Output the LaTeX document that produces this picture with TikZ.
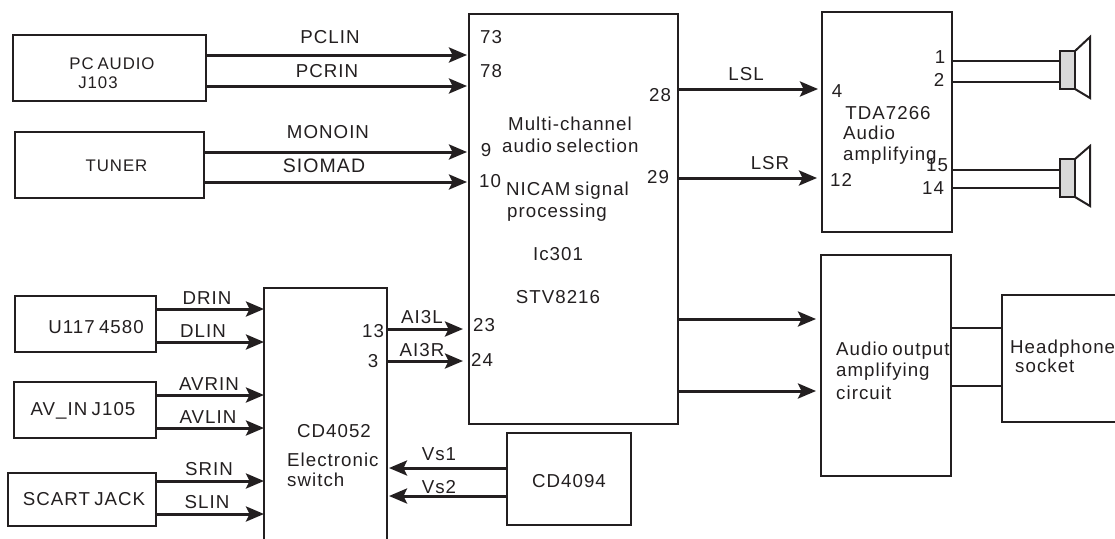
\documentclass[tikz,border=0pt]{standalone}
\usepackage{fontspec}
\setmainfont{Liberation Sans}[LetterSpace=5.5,WordSpace=0.7]
\usetikzlibrary{arrows.meta}
\definecolor{ink}{HTML}{231F20}
\tikzset{
  x=1pt,y=-1pt,
  box/.style={draw=ink,line width=2pt,fill=none,inner sep=0pt,outer sep=0pt},
  sig/.style={draw=ink,line width=3pt,-{Stealth[length=18pt,width=15pt,inset=3.5pt]}},
  wire/.style={draw=ink,line width=2pt},
  lab/.style={text=ink,font=\fontsize{18.7}{20}\selectfont,inner sep=0pt,text height=13.4pt,text depth=0pt},
  labl/.style={lab,anchor=west},
  small/.style={font=\fontsize{16.8}{18}\selectfont,text height=12pt},
  big/.style={font=\fontsize{19.5}{20}\selectfont},
  spk/.style={draw=ink,line width=2pt,fill=black!15},
  horn/.style={draw=ink,line width=2pt,line join=miter},
}
\newcommand{\bx}[5]{\node[box,anchor=north west,minimum width=#4 pt - #2 pt,minimum height=#5 pt - #3 pt] (#1) at (#2,#3) {};}
\begin{document}
\begin{tikzpicture}
\useasboundingbox (0,0) rectangle (1115,538);
\begin{scope}
\clip (0,0) rectangle (1115,538);
\bx{pc}{13}{35}{206}{101}
\bx{tuner}{15}{132}{204}{198}
\bx{ic}{469}{14}{678}{424}
\bx{tda}{822}{12}{952}{232}
\bx{aout}{821}{255}{951}{476}
\bx{hp}{1002}{295}{1130}{422}
\bx{u117}{15}{296}{156}{352}
\bx{avin}{14}{382}{156}{438}
\bx{scart}{8}{473}{156}{526}
\bx{cdf}{264}{288}{387}{560}
\bx{cdn}{507}{433}{631}{525}
\end{scope}
% speakers
\coordinate (s1a) at (1060,51); \coordinate (s1b) at (1075,89);
\coordinate (s2a) at (1060,159); \coordinate (s2b) at (1075,197);
\draw[spk] (s1a) rectangle (s1b);
\draw[spk] (s2a) rectangle (s2b);
\draw[horn] (1075,51) -- (1090,37) -- (1090,98) -- (1075,89);
\draw[horn] (1075,159) -- (1090,146) -- (1090,206) -- (1075,197);
% arrows
\foreach \y in {55,86} \draw[sig,shorten >=2pt] (pc.east |- 0,\y) -- (ic.west |- 0,\y);
\foreach \y in {152,182} \draw[sig,shorten >=2pt] (tuner.east |- 0,\y) -- (ic.west |- 0,\y);
\foreach \y in {309,342} \draw[sig] (u117.east |- 0,\y) -- (cdf.west |- 0,\y);
\foreach \y in {395,428} \draw[sig] (avin.east |- 0,\y) -- (cdf.west |- 0,\y);
\foreach \y in {481,514} \draw[sig] (scart.east |- 0,\y) -- (cdf.west |- 0,\y);
\foreach \y in {329,361} \draw[sig,shorten >=6pt] (cdf.east |- 0,\y) -- (ic.west |- 0,\y);
\foreach \y in {468,496} \draw[sig,shorten >=2pt] (cdn.west |- 0,\y) -- (cdf.east |- 0,\y);
\draw[sig,shorten >=4pt] (ic.east |- 0,89) -- (tda.west |- 0,89);
\draw[sig,shorten >=5pt] (ic.east |- 0,178) -- (tda.west |- 0,178);
\foreach \y in {319,391} \draw[sig,shorten >=5pt] (ic.east |- 0,\y) -- (aout.west |- 0,\y);
% plain wires
\draw[wire] (aout.east |- 0,328) -- (hp.west |- 0,328);
\draw[wire] (aout.east |- 0,386) -- (hp.west |- 0,386);
\draw[wire] (tda.east |- 0,61) -- (s1a |- 0,61);
\draw[wire] (tda.east |- 0,82) -- (s1a |- 0,82);
\draw[wire] (tda.east |- 0,170) -- (s2a |- 0,170);
\draw[wire] (tda.east |- 0,188) -- (s2a |- 0,188);
% signal labels
\node[lab] (t1) at (330,37) {PCLIN};
\node[lab] (t2) at (327,71) {PCRIN};
\node[lab] (t3) at (328,132) {MONOIN};
\node[lab,big] (t4) at (324,166) {SIOMAD};
\node[lab] (t5) at (207,298) {DRIN};
\node[lab] (t6) at (203,331) {DLIN};
\node[lab] (t7) at (209,384) {AVRIN};
\node[lab] (t8) at (208,417) {AVLIN};
\node[lab] (t9) at (209,469) {SRIN};
\node[lab] (t10) at (207,502) {SLIN};
\node[lab] (t11) at (422,317) {AI3L};
\node[lab] (t12) at (422,350) {AI3R};
\node[lab] (t13) at (439,454) {Vs1};
\node[lab] (t14) at (439,487) {Vs2};
\node[lab] (t15) at (746,74) {LSL};
\node[lab] (t16) at (770,163) {LSR};
% pins
\node[lab] (p73) at (491,37) {73};
\node[lab] (p78) at (491,71) {78};
\node[lab] (p9) at (486,150) {9};
\node[lab] (p10) at (490,181) {10};
\node[lab] (p28) at (660,95) {28};
\node[lab] (p29) at (658,177) {29};
\node[lab] (p23) at (484,325) {23};
\node[lab] (p24) at (482,360) {24};
\node[lab] (p13) at (373,331) {13};
\node[lab] (p3) at (373,361) {3};
\node[lab] (q1) at (940,57) {1};
\node[lab] (q2) at (939,80) {2};
\node[lab] (q4) at (837,91) {4};
\node[lab] (q12) at (841,180) {12};
\node[lab] (q15) at (937,165) {15};
\node[lab] (q14) at (933,188) {14};
% box text
\node[lab,small] (n1) at (112,63) {PC AUDIO};
\node[lab,small] (n2) at (98,82) {J103};
\node[lab,small] (n3) at (116.5,165) {TUNER};
\node[lab] (n4) at (96,327) {U117 4580};
\node[lab] (n5) at (83,409) {AV\_IN J105};
\node[lab] (n6) at (84,499) {SCART JACK};
\node[lab] (n7) at (334,431) {CD4052};
\node[labl] (n8) at (287,460) {Electronic};
\node[labl] (n9) at (287,480) {switch};
\node[lab] (n10) at (569,481) {CD4094};
\node[labl] (m1) at (508,124) {Multi-channel};
\node[labl] (m2) at (502,146) {audio selection};
\node[labl] (m3) at (506,189) {NICAM signal};
\node[labl] (m4) at (507,211) {processing};
\node[lab] (m5) at (558,254) {Ic301};
\node[lab] (m6) at (558,297) {STV8216};
\node[lab] (d1) at (888,113) {TDA7266};
\node[labl] (d2) at (843,133) {Audio};
\node[labl] (d3) at (843,154) {amplifying};
\node[labl] (a1) at (836,349) {Audio output};
\node[labl] (a2) at (836,370) {amplifying};
\node[labl] (a3) at (836,393) {circuit};
\node[labl] (h1) at (1010,347) {Headphone};
\node[labl] (h2) at (1015,366) {socket};
\end{tikzpicture}
\end{document}
